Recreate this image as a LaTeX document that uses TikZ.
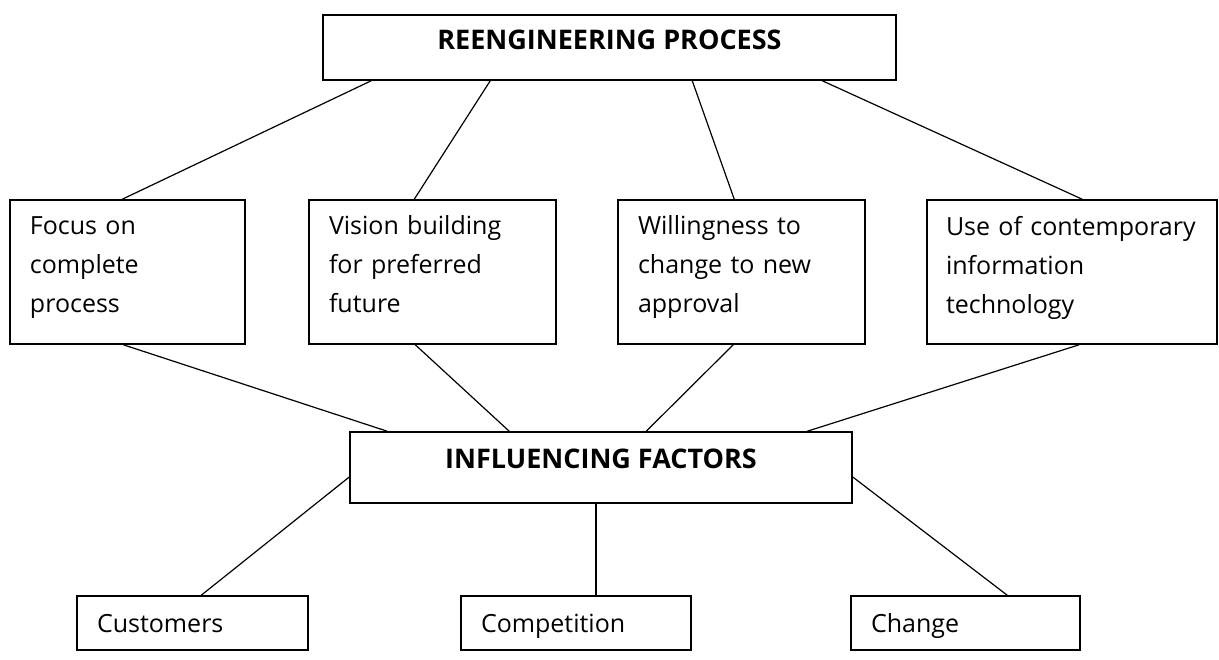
\documentclass[tikz,border=0pt]{standalone}
\usepackage{fontspec}
\setmainfont{Open Sans}
\usetikzlibrary{positioning}

\newcommand{\boxstrut}{\rule[-15pt]{0pt}{34pt}}

\tikzset{
  headbox/.style={rectangle, draw, line width=1.5pt, inner sep=0pt, font=\bfseries\fontsize{27}{32}\selectfont, text height=19pt},
  factbox/.style={rectangle, draw, line width=1.5pt, inner xsep=20pt, inner ysep=0pt, align=left, font=\fontsize{25}{39}\selectfont},
  endbox/.style={factbox, minimum height=54pt, text height=19pt, text depth=1pt},
  link/.style={line width=1.2pt}
}

\begin{document}
\begin{tikzpicture}[x=1pt, y=-1pt]
    \useasboundingbox (0,0) rectangle (1219,660);

    % heads
    \node[headbox, minimum width=573pt, minimum height=65pt, text depth=14pt] (reeng) at (609.5,47.5) {REENGINEERING PROCESS};
    \node[headbox, minimum width=502pt, minimum height=71pt, text depth=18pt] (factors) at (601,467.5) {INFLUENCING FACTORS};

    % middle row
    \node[factbox, minimum height=144pt, text width=195pt] (focus) at (127.5,272) {\boxstrut Focus on\\complete\\process\boxstrut};
    \node[factbox, minimum height=144pt, text width=207pt] (vision) at (432.5,272) {\boxstrut Vision building\\for preferred\\future\boxstrut};
    \node[factbox, minimum height=144pt, text width=207pt] (willing) at (741.5,272) {\boxstrut Willingness to\\change to new\\approval\boxstrut};
    \node[factbox, minimum height=144pt, inner xsep=19pt, text width=252pt] (tech) at (1072,272) {\boxstrut Use~of~contemporary\\information\\technology\boxstrut};

    % bottom row
    \node[endbox, text width=191pt] (customers) at (192.5,623) {Customers};
    \node[endbox, text width=190pt] (competition) at (576,623) {Competition};
    \node[endbox, text width=189pt] (change) at (965.5,623) {Change};

    % links
    \draw[link] ([xshift=49pt]reeng.south west) -- ([xshift=113pt]focus.north west);
    \draw[link] ([xshift=168pt]reeng.south west) -- ([xshift=106pt]vision.north west);
    \draw[link] ([xshift=370pt]reeng.south west) -- ([xshift=117pt]willing.north west);
    \draw[link] ([xshift=500pt]reeng.south west) -- ([xshift=156pt]tech.north west);

    \draw[link] ([xshift=114pt]focus.south west) -- ([xshift=38pt]factors.north west);
    \draw[link] ([xshift=107pt]vision.south west) -- ([xshift=160pt]factors.north west);
    \draw[link] ([xshift=116pt]willing.south west) -- ([xshift=297pt]factors.north west);
    \draw[link] ([xshift=153pt]tech.south west) -- ([xshift=458pt]factors.north west);

    \draw[link] ([yshift=-9.5pt]factors.west) -- ([xshift=125pt]customers.north west);
    \draw[link] ([xshift=-5pt]factors.south) -- ([xshift=-5pt]factors.south |- competition.north);
    \draw[link] ([yshift=-9.5pt]factors.east) -- ([xshift=157pt]change.north west);
\end{tikzpicture}
\end{document}
